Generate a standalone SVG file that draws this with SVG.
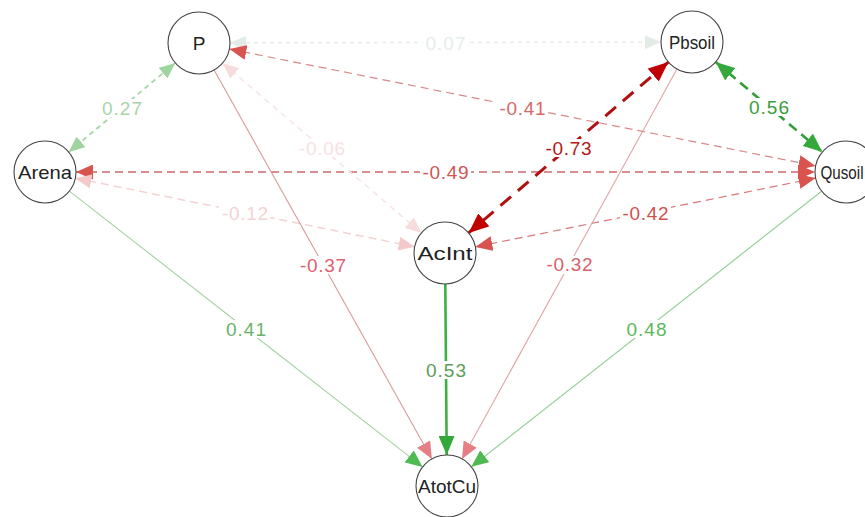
<svg xmlns="http://www.w3.org/2000/svg" width="865" height="517" viewBox="0 0 865 517">
<style>
.node circle{fill:#fff;stroke:#444;stroke-width:1.1}
.node text{font-family:"Liberation Sans",Arial,sans-serif;font-size:19px;fill:#222;text-anchor:middle}
.lbl text{font-family:"Liberation Sans",Arial,sans-serif;font-size:19px;text-anchor:middle}
.lbl rect{fill:#fff}
.e{fill:none}
</style>
<defs>
<marker id="m-fg" markerUnits="userSpaceOnUse" markerWidth="16" markerHeight="14" refX="16" refY="7" orient="auto-start-reverse"><path d="M0,0L16,7L0,14z" fill="#e2ebe6"/></marker>
<marker id="m-lg" markerUnits="userSpaceOnUse" markerWidth="16" markerHeight="14" refX="16" refY="7" orient="auto-start-reverse"><path d="M0,0L16,7L0,14z" fill="#9fd49f"/></marker>
<marker id="m-r" markerUnits="userSpaceOnUse" markerWidth="17" markerHeight="15" refX="17" refY="7.5" orient="auto-start-reverse"><path d="M0,0L17,7.5L0,15z" fill="#d9534f"/></marker>
<marker id="m-g" markerUnits="userSpaceOnUse" markerWidth="19" markerHeight="16" refX="19" refY="8" orient="auto-start-reverse"><path d="M0,0L19,8L0,16z" fill="#34a83a"/></marker>
<marker id="m-dr" markerUnits="userSpaceOnUse" markerWidth="20" markerHeight="17" refX="20" refY="8.5" orient="auto-start-reverse"><path d="M0,0L20,8.5L0,17z" fill="#c00000"/></marker>
<marker id="m-pk" markerUnits="userSpaceOnUse" markerWidth="16" markerHeight="14" refX="16" refY="7" orient="auto-start-reverse"><path d="M0,0L16,7L0,14z" fill="#f3c9c9"/></marker>
<marker id="m-vp" markerUnits="userSpaceOnUse" markerWidth="16" markerHeight="14" refX="16" refY="7" orient="auto-start-reverse"><path d="M0,0L16,7L0,14z" fill="#f6dcdc"/></marker>
<marker id="m-rs" markerUnits="userSpaceOnUse" markerWidth="17" markerHeight="15" refX="17" refY="7.5" orient="auto-start-reverse"><path d="M0,0L17,7.5L0,15z" fill="#e57f85"/></marker>
<marker id="m-mg" markerUnits="userSpaceOnUse" markerWidth="17" markerHeight="15" refX="17" refY="7.5" orient="auto-start-reverse"><path d="M0,0L17,7.5L0,15z" fill="#4fba52"/></marker>
</defs>
<rect width="865" height="517" fill="#fff"/>
<g id="connectors">
<line class="e" x1="230" y1="42.9" x2="661" y2="42.1" stroke="#e6eee9" stroke-width="1.5" stroke-dasharray="4,4" marker-start="url(#m-fg)" marker-end="url(#m-fg)"/>
<line class="e" x1="68.8" y1="152.1" x2="175.2" y2="62.9" stroke="#a8d8a8" stroke-width="1.8" stroke-dasharray="5,4" marker-start="url(#m-lg)" marker-end="url(#m-lg)"/>
<line class="e" x1="229.4" y1="49.1" x2="815.6" y2="165.9" stroke="#d88a8a" stroke-width="1.2" stroke-dasharray="8,5" marker-start="url(#m-r)" marker-end="url(#m-r)"/>
<line class="e" x1="76" y1="172" x2="815" y2="172" stroke="#cc6a6a" stroke-width="1.3" stroke-dasharray="8,5" marker-start="url(#m-r)" marker-end="url(#m-r)"/>
<line class="e" x1="715.7" y1="62" x2="822.3" y2="152" stroke="#2f9e35" stroke-width="2.6" stroke-dasharray="10,6" marker-start="url(#m-g)" marker-end="url(#m-g)"/>
<line class="e" x1="668.4" y1="62.1" x2="468.6" y2="232.9" stroke="#b01010" stroke-width="3" stroke-dasharray="14,9" marker-start="url(#m-dr)" marker-end="url(#m-dr)"/>
<line class="e" x1="815.6" y1="178.1" x2="475.4" y2="246.9" stroke="#d87878" stroke-width="1.2" stroke-dasharray="8,5" marker-start="url(#m-r)" marker-end="url(#m-r)"/>
<line class="e" x1="75.4" y1="178.2" x2="414.6" y2="246.8" stroke="#f3d3d3" stroke-width="1.5" stroke-dasharray="8,5" marker-start="url(#m-pk)" marker-end="url(#m-pk)"/>
<line class="e" x1="222.6" y1="63.1" x2="421.4" y2="232.9" stroke="#f7e4e4" stroke-width="1.5" stroke-dasharray="6,5" marker-start="url(#m-vp)" marker-end="url(#m-vp)"/>
<line class="e" x1="214.1" y1="70.1" x2="431.9" y2="458.9" stroke="#d99a9a" stroke-width="1.1" marker-end="url(#m-rs)"/>
<line class="e" x1="677" y1="69.1" x2="462" y2="458.9" stroke="#e0a4a6" stroke-width="1.1" marker-end="url(#m-rs)"/>
<line class="e" x1="69.4" y1="191.1" x2="422.6" y2="466.9" stroke="#a4d2a4" stroke-width="1.1" marker-end="url(#m-mg)"/>
<line class="e" x1="821.6" y1="191.2" x2="471.4" y2="466.8" stroke="#98cf98" stroke-width="1.2" marker-end="url(#m-mg)"/>
<line class="e" x1="445.3" y1="284" x2="446.7" y2="455" stroke="#3cb043" stroke-width="2.6" marker-end="url(#m-g)"/>
</g>
<g id="edge-labels" class="lbl">
<rect x="423" y="34" width="45" height="18"/><text x="445.5" y="49.5" textLength="40" fill="#e4ede8">0.07</text>
<rect x="100" y="99" width="45" height="18"/><text x="122" y="114.5" textLength="40" fill="#a6d6a6">0.27</text>
<rect x="497" y="99" width="51" height="18"/><text x="522.5" y="114.5" textLength="46" fill="#d46a6a">-0.41</text>
<rect x="420" y="163" width="51" height="18"/><text x="445.5" y="179" textLength="46" fill="#d05555">-0.49</text>
<rect x="746" y="98" width="45" height="18"/><text x="769" y="114" textLength="40" fill="#3a9e3a">0.56</text>
<rect x="543" y="139" width="51" height="18"/><text x="568.5" y="154.5" textLength="46" fill="#b01818">-0.73</text>
<rect x="620" y="204" width="51" height="18"/><text x="645.5" y="219.5" textLength="46" fill="#d45050">-0.42</text>
<rect x="219" y="204" width="51" height="18"/><text x="245" y="219.5" textLength="46" fill="#f2d4d4">-0.12</text>
<rect x="296" y="139" width="51" height="18"/><text x="322" y="155" textLength="46" fill="#f6e2e2">-0.06</text>
<rect x="298" y="256" width="51" height="18"/><text x="323" y="271.5" textLength="46" fill="#e0606e">-0.37</text>
<rect x="544" y="256" width="51" height="18"/><text x="569.5" y="271" textLength="46" fill="#d8606a">-0.32</text>
<rect x="224" y="320" width="45" height="18"/><text x="246" y="336" textLength="40" fill="#6ab46a">0.41</text>
<rect x="624" y="320" width="45" height="18"/><text x="646.5" y="336" textLength="40" fill="#5cb85c">0.48</text>
<rect x="424" y="361" width="45" height="18"/><text x="446" y="376.5" textLength="40" fill="#5a9e5a">0.53</text>
</g>
<g id="node-P" class="node"><circle cx="199" cy="43" r="31"/><text x="199" y="50" font-size="21">P</text></g>
<g id="node-Pbsoil" class="node"><circle cx="692" cy="42" r="31"/><text x="692" y="49" textLength="46" lengthAdjust="spacingAndGlyphs">Pbsoil</text></g>
<g id="node-Arena" class="node"><circle cx="45" cy="172" r="31"/><text x="45" y="179" textLength="54" lengthAdjust="spacingAndGlyphs">Arena</text></g>
<g id="node-Qusoil" class="node"><circle cx="846" cy="172" r="31"/><text x="842" y="179" textLength="43" lengthAdjust="spacingAndGlyphs">Qusoil</text></g>
<g id="node-AcInt" class="node"><circle cx="445" cy="253" r="31"/><text x="445" y="260" textLength="55" lengthAdjust="spacingAndGlyphs">AcInt</text></g>
<g id="node-AtotCu" class="node"><circle cx="447" cy="486" r="31"/><text x="447" y="493" textLength="58" lengthAdjust="spacingAndGlyphs">AtotCu</text></g>
</svg>
